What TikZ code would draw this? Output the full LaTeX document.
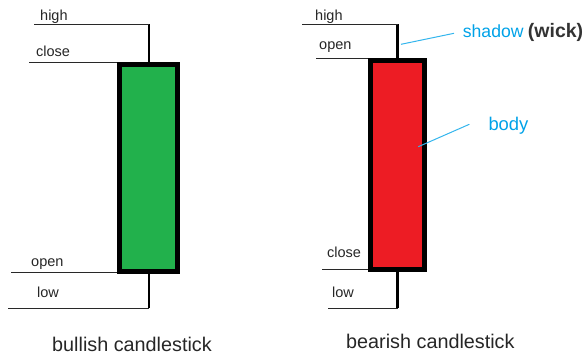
\documentclass[tikz,border=0pt]{standalone}
\usepackage{fontspec}
\setmainfont{Liberation Sans}
\definecolor{bullgreen}{RGB}{34,177,76}
\definecolor{bearred}{RGB}{237,28,36}
\definecolor{annot}{RGB}{0,162,232}
\definecolor{wickgray}{RGB}{51,51,51}
\definecolor{guide}{RGB}{40,40,40}
\tikzset{
  bodybox/.style={draw=black, line width=5pt, inner sep=0pt, minimum width=#1},
  wickline/.style={line width=2.8pt, black},
  guideline/.style={line width=1pt, guide},
  lbl/.style={anchor=base west, inner sep=0pt, font=\fontsize{14.5}{17}\selectfont, text=black!85},
  ttl/.style={anchor=base west, inner sep=0pt, font=\fontsize{19.8}{23}\selectfont, text=black!85},
  leader/.style={line width=1pt, annot!80},
}
\begin{document}
\begin{tikzpicture}[x=1pt,y=-1pt]
\useasboundingbox (0,0) rectangle (585,354);
% ---------- bullish ----------
\coordinate (bullhigh) at (149,24.3);
\coordinate (bulllow) at (149,308);
\coordinate (bhL) at (34,24.3);
\coordinate (bcL) at (29,62.3);
\coordinate (boL) at (11,272);
\coordinate (blL) at (8,308);
\draw[wickline] (bullhigh) -- (149,66);
\draw[wickline] (149,270) -- (bulllow);
\node[bodybox=58.3pt, minimum height=206.7pt, fill=bullgreen] (bullbody) at (148.35,168.15) {};
\draw[guideline] (bhL) -- (bullhigh);
\draw[guideline] (bcL) -- (116.7,62.3);
\draw[guideline] (boL) -- (116.7,272);
\draw[guideline] (blL) -- (bulllow);
\node[lbl] (bhigh) at (40,20) {high};
\node[lbl] (bclose) at (36,56.7) {close};
\node[lbl] (bopen) at (31,266.7) {open};
\node[lbl] (blow) at (37,297.3) {low};
\node[ttl] (bulltitle) at (52,351) {bullish candlestick};
% ---------- bearish ----------
\coordinate (bearhigh) at (397.7,24);
\coordinate (bearlow) at (397.7,308);
\coordinate (rhL) at (302,24);
\coordinate (roL) at (316,58.3);
\coordinate (rcL) at (322,269.5);
\coordinate (rlL) at (328,308);
\draw[wickline] (bearhigh) -- (397.7,62);
\draw[wickline] (397.7,268) -- (bearlow);
\node[bodybox=53.4pt, minimum height=208.7pt, fill=bearred] (bearbody) at (397.5,165.15) {};
\draw[guideline] (rhL) -- (bearhigh);
\draw[guideline] (roL) -- (368.3,58.3);
\draw[guideline] (rcL) -- (368.3,269.5);
\draw[guideline] (rlL) -- (bearlow);
\node[lbl] (rhigh) at (315,20.7) {high};
\node[lbl] (ropen) at (319,49) {open};
\node[lbl] (rclose) at (327,257.7) {close};
\node[lbl] (rlow) at (332,297.7) {low};
\node[ttl] (beartitle) at (346,348.3) {bearish candlestick};
% ---------- annotations ----------
\node[anchor=base west, inner sep=0pt, font=\fontsize{17.6}{20}\selectfont, text=annot] (shadowlbl) at (462.7,37) {shadow};
\node[anchor=base west, inner sep=0pt, font=\fontsize{19.5}{22}\selectfont\bfseries, text=wickgray] (wicklbl) at ([xshift=4pt]shadowlbl.base east) {(wick)};
\coordinate (shadowtip) at (401,44.3);
\coordinate (shadowend) at (454,33.3);
\draw[leader] (shadowtip) -- (shadowend);
\node[anchor=base west, inner sep=0pt, font=\fontsize{18.4}{21}\selectfont, text=annot] (bodylbl) at (488.3,130.7) {body};
\coordinate (bodytip) at (418.3,146.7);
\coordinate (bodyend) at (469.3,124.3);
\draw[leader] (bodytip) -- (bodyend);
\end{tikzpicture}
\end{document}
